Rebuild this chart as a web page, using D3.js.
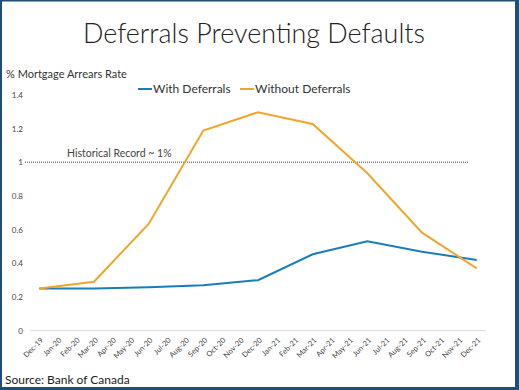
<!DOCTYPE html>
<html><head><meta charset="utf-8">
<script src="https://cdn.jsdelivr.net/npm/d3@7"></script>
<style>html,body{margin:0;padding:0;background:#fff;}svg{display:block;}</style>
</head><body>
<script>
const months = ["Dec-19","Jan-20","Feb-20","Mar-20","Apr-20","May-20","Jun-20","Jul-20","Aug-20","Sep-20","Oct-20","Nov-20","Dec-20","Jan-21","Feb-21","Mar-21","Apr-21","May-21","Jun-21","Jul-21","Aug-21","Sep-21","Oct-21","Nov-21","Dec-21"];
const pointMonths = ["Dec-19","Mar-20","Jun-20","Sep-20","Dec-20","Mar-21","Jun-21","Sep-21","Dec-21"];
const withDeferrals = [0.25,0.25,0.258,0.27,0.30,0.454,0.531,0.469,0.42];
const withoutDeferrals = [0.25,0.291,0.634,1.188,1.297,1.227,0.935,0.582,0.37];
const yTicks = [0,0.2,0.4,0.6,0.8,1,1.2,1.4];
const historicalRecord = 1;

const W = 519, H = 390;
const FONT = "Lato, 'Open Sans', sans-serif";
const svg = d3.select("body").append("svg").attr("width", W).attr("height", H);
svg.append("rect").attr("x",0).attr("y",0).attr("width",W).attr("height",H).attr("fill","#fff");

const x = d3.scalePoint().domain(months).range([39.3, 476.7]);
const y = d3.scaleLinear().domain([0, 1.4]).range([330.7, 94.9]);

// title
svg.append("text").attr("x", 254).attr("y", 43).attr("text-anchor","middle")
  .attr("font-family",FONT).attr("font-weight",300)
  .attr("font-size",27).attr("fill","#222")
  .attr("textLength", 342).attr("lengthAdjust","spacingAndGlyphs")
  .text("Deferrals Preventing Defaults");

// y axis title
svg.append("text").attr("x",6).attr("y",78).attr("font-family",FONT)
  .attr("font-size",11).attr("fill","#333").text("% Mortgage Arrears Rate");

// y axis
const yAxis = d3.axisLeft(y).tickValues(yTicks).tickSize(0).tickPadding(0).tickFormat(d => d3.format("")(+d.toFixed(1)));
const gy = svg.append("g").attr("transform","translate(23,0)").call(yAxis);
gy.select(".domain").remove();
gy.selectAll("text").attr("font-family",FONT).attr("font-size",8).attr("fill","#444");

// x axis
const xAxis = d3.axisBottom(x).tickSize(0).tickPadding(0);
const gx = svg.append("g").attr("transform",`translate(0,${y(0)})`).call(xAxis);
gx.select(".domain").attr("stroke","#d9d9d9").attr("d", `M30,0H486`);
gx.selectAll("text").attr("font-family",FONT).attr("font-size",7.5)
  .attr("fill","#444").attr("text-anchor","end").attr("dy",0)
  .attr("transform","translate(4,10) rotate(-45)");

// historical record line
svg.append("line").attr("x1",25).attr("x2",468).attr("y1",y(historicalRecord)).attr("y2",y(historicalRecord))
  .attr("stroke","#7f7f7f").attr("stroke-width",1.5).attr("stroke-dasharray","1,1");
svg.append("text").attr("x",67).attr("y",y(historicalRecord)-5).attr("font-family",FONT)
  .attr("font-size",10.5).attr("fill","#444").text("Historical Record ~ 1%");

const line = d3.line().x(d => x(d[0])).y(d => y(d[1]));
svg.append("path").datum(pointMonths.map((m,i)=>[m,withDeferrals[i]])).attr("d",line)
  .attr("fill","none").attr("stroke","#1a7db8").attr("stroke-width",2);
svg.append("path").datum(pointMonths.map((m,i)=>[m,withoutDeferrals[i]])).attr("d",line)
  .attr("fill","none").attr("stroke","#f2a52c").attr("stroke-width",2);

// legend
const legend = [["With Deferrals","#1a7db8",138],["Without Deferrals","#f2a52c",240]];
legend.forEach(([t,c,lx]) => {
  svg.append("line").attr("x1",lx).attr("x2",lx+14).attr("y1",89).attr("y2",89).attr("stroke",c).attr("stroke-width",2);
  svg.append("text").attr("x",lx+15).attr("y",93).attr("font-family",FONT)
    .attr("font-size",12).attr("fill","#333").text(t);
});

// source
svg.append("text").attr("x",5).attr("y",384).attr("font-family",FONT)
  .attr("font-size",12).attr("fill","#222").text("Source: Bank of Canada");

// frame
svg.append("rect").attr("x",0).attr("y",0).attr("width",2).attr("height",H).attr("fill","#1f4e79");
svg.append("rect").attr("x",0).attr("y",0).attr("width",W).attr("height",1.5).attr("fill","#1f4e79");
svg.append("rect").attr("x",W-4).attr("y",0).attr("width",4).attr("height",H).attr("fill","#1f4e79");
svg.append("rect").attr("x",0).attr("y",H-3).attr("width",W).attr("height",3).attr("fill","#1f4e79");
</script>
</body></html>
